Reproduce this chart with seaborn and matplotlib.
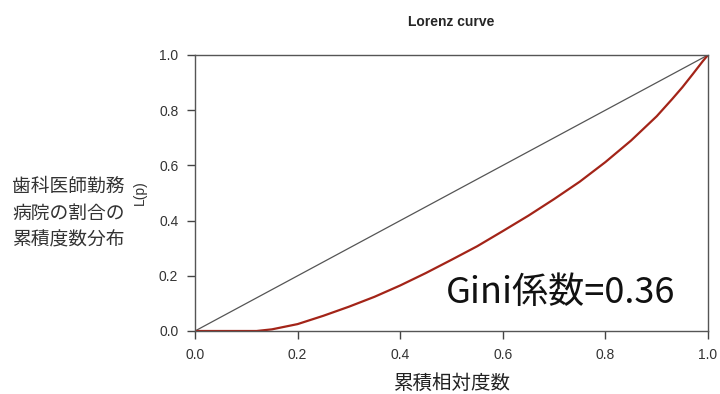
import matplotlib
matplotlib.use("Agg")
import matplotlib.pyplot as plt
import seaborn as sns
import pandas as pd

# cumulative share of hospitals (p) and Lorenz curve values L(p)
p_vals = [0.0, 0.05, 0.10, 0.12, 0.15, 0.20, 0.25, 0.30, 0.35, 0.40, 0.45, 0.50,
          0.55, 0.60, 0.65, 0.70, 0.75, 0.80, 0.85, 0.90, 0.93, 0.95, 0.97, 0.99, 1.0]
lorenz_vals = [0.0, 0.0, 0.0, 0.0, 0.006, 0.025, 0.055, 0.088, 0.124, 0.165, 0.21, 0.258,
               0.307, 0.362, 0.418, 0.478, 0.541, 0.612, 0.69, 0.778, 0.84, 0.883, 0.93, 0.978, 1.0]
equality = [0.0, 1.0]
ticks = [0.0, 0.2, 0.4, 0.6, 0.8, 1.0]
gini = 0.36

sns.set_theme(style="ticks")
plt.rcParams['font.family'] = ['Noto Sans CJK JP', 'DejaVu Sans']

df = pd.DataFrame({'p': p_vals, 'L': lorenz_vals})
eq = pd.DataFrame({'p': equality, 'L': equality})

fig = plt.figure(figsize=(7.2, 3.94), dpi=100)
ax = fig.add_axes([195 / 720, 63 / 394, 513 / 720, 276 / 394])

sns.lineplot(data=eq, x='p', y='L', ax=ax, color='#555555', linewidth=0.9)
sns.lineplot(data=df, x='p', y='L', ax=ax, color='#A32418', linewidth=1.6)

ax.set_xlim(0, 1)
ax.set_ylim(0, 1)
ax.set_xticks(ticks)
ax.set_yticks(ticks)
ax.set_xticklabels([f"{t:.1f}" for t in ticks], family='Liberation Sans')
ax.set_yticklabels([f"{t:.1f}" for t in ticks], family='Liberation Sans')
ax.tick_params(length=6, width=1, color='#444444', labelsize=10, labelcolor='#333333', pad=6)
for s in ax.spines.values():
    s.set_color('#555555')
    s.set_linewidth(1)

ax.set_xlabel('')
ax.set_ylabel('')
ax.set_title('Lorenz curve', fontsize=10, fontweight='bold', family='Liberation Sans', pad=21)

ax.text(0.713, 0.10, f'Gini係数={gini}', fontsize=26, ha='center', va='baseline', color='#111111')

fig.text(140 / 720, 1 - 193 / 394, 'L(p)', rotation=90, fontsize=10, ha='center', va='center',
         family='Liberation Sans', color='#333333')
fig.text(12 / 720, 1 - 213 / 394, '歯科医師勤務\n病院の割合の\n累積度数分布', fontsize=13.5,
         ha='left', va='center', linespacing=1.35, color='#333333')
fig.text(452 / 720, 1 - 383 / 394, '累積相対度数', fontsize=14, ha='center', va='center',
         color='#222222')

fig.savefig('out.png', dpi=100)
